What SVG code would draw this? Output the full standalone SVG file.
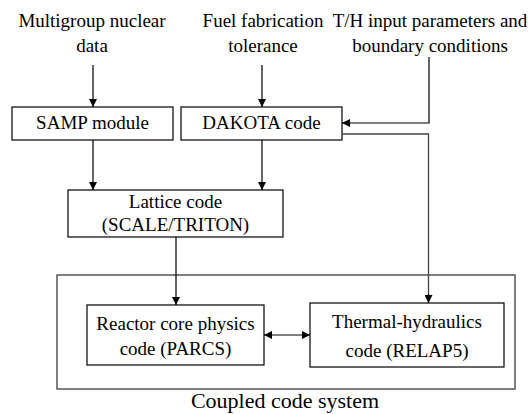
<svg xmlns="http://www.w3.org/2000/svg" width="528" height="414" viewBox="0 0 528 414">
<style>
text{font-family:'Liberation Serif','Times New Roman',Times,serif;font-size:19px;fill:#000;text-anchor:middle}
.box{fill:#fff;stroke:#000;stroke-width:1.2}
.c{fill:none;stroke:#000;stroke-width:1.2}
.g{fill:none;stroke:#444;stroke-width:1.3}
</style>
<defs>
<marker id="ah" viewBox="0 0 10 10" refX="10" refY="5" markerWidth="8" markerHeight="8" markerUnits="userSpaceOnUse" orient="auto-start-reverse">
<path d="M0,0 L10,5 L0,10 Z" fill="#000"/>
</marker>
</defs>
<g font-family="Liberation Serif, serif">
<g id="in-multigroup"><text x="92" y="27">Multigroup nuclear</text><text x="92" y="52">data</text></g>
<g id="in-fuel"><text x="263" y="27">Fuel fabrication</text><text x="263" y="52">tolerance</text></g>
<g id="in-th"><text x="430" y="27">T/H input parameters and</text><text x="430" y="52">boundary conditions</text></g>
<g id="coupled"><rect x="57" y="275" width="458" height="114" fill="none" stroke="#555" stroke-width="1.5"/><text x="285" y="408" style="font-size:22px">Coupled code system</text></g>
<g id="samp"><rect class="box" x="12" y="107" width="161" height="33"/><text x="92.5" y="129">SAMP module</text></g>
<g id="dakota"><rect class="box" x="181" y="107" width="161" height="33"/><text x="261.5" y="129">DAKOTA code</text></g>
<g id="lattice"><rect class="box" x="68" y="190" width="215" height="47"/><text x="175.5" y="208">Lattice code</text><text x="175.5" y="231">(SCALE/TRITON)</text></g>
<g id="parcs"><rect class="box" x="87" y="305" width="177" height="60"/><text x="175.5" y="330">Reactor core physics</text><text x="175.5" y="355">code (PARCS)</text></g>
<g id="relap"><rect class="box" x="310" y="303" width="194" height="64"/><text x="407" y="328">Thermal-hydraulics</text><text x="407" y="357">code (RELAP5)</text></g>
</g>
<g id="connectors">
<path class="c" d="M93,65 V107" marker-end="url(#ah)"/>
<path class="c" d="M262,65 V107" marker-end="url(#ah)"/>
<path class="c" d="M429,57 V123 H342" marker-end="url(#ah)"/>
<path class="c" d="M93,140 V190" marker-end="url(#ah)"/>
<path class="c" d="M262,140 V190" marker-end="url(#ah)"/>
<path class="c" d="M176,237 V305" marker-end="url(#ah)"/>
<path class="g" d="M342,134 H428.5 V295"/>
<path class="c" d="M428.5,294 V303" marker-end="url(#ah)"/>
<path class="c" d="M264,335 H310" marker-start="url(#ah)" marker-end="url(#ah)"/>
</g>
</svg>
